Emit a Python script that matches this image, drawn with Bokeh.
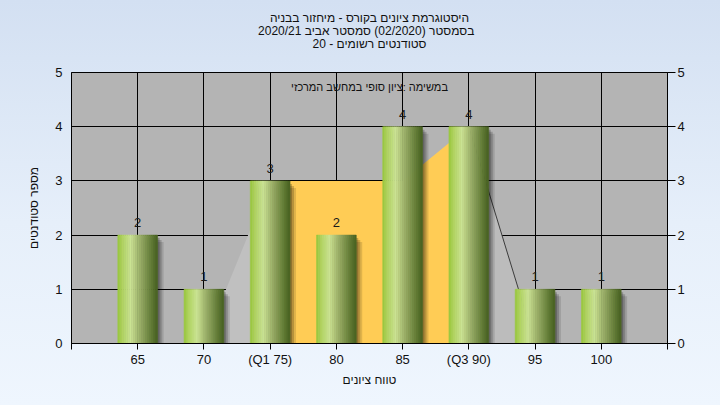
from bokeh.plotting import figure
from bokeh.models import Range1d, LinearAxis, FixedTicker, Label, ColumnDataSource, Title
from bokeh.embed import file_html
from bokeh.resources import INLINE
from bokeh.core.properties import value

# ---------------- data ----------------
grades = ["65", "70", "(Q1 75)", "80", "85", "(Q3 90)", "95", "100"]
counts = [2, 1, 3, 2, 4, 4, 1, 1]
# background distribution area (tails + inter-quartile part)
area_grades = ["70", "(Q1 75)", "80", "85", "(Q3 90)", "95"]
area_values = [0, 3, 3, 3, 4, 0]
q1_grade = "(Q1 75)"
q3_grade = "(Q3 90)"
y_ticks = [0, 1, 2, 3, 4, 5]

title_lines = [
    "היסטוגרמת ציונים בקורס - מיחזור בבניה",
    "בסמסטר  (02/2020)  סמסטר אביב 2020/21",
    "סטודנטים רשומים - 20",
]
subtitle = "במשימה :ציון סופי במחשב המרכזי"
x_title = "טווח ציונים"
y_title = "מספר סטודנטים"

FONT = "Liberation Sans"

# ---------------- figure ----------------
W, H = 720, 405
L, R, T, B = 71, 53, 72, 62
nx = len(grades) + 1
xpos = {g: i + 1 for i, g in enumerate(grades)}

p = figure(width=W, height=H, output_backend="svg", toolbar_location=None,
           x_range=Range1d(0, nx), y_range=Range1d(0, 5),
           min_border_left=L, min_border_right=R, min_border_top=T, min_border_bottom=B,
           background_fill_color="#B4B4B4", border_fill_color=None,
           outline_line_color="black", outline_line_width=1,
           styles={"background": "linear-gradient(180deg, #D3E0F2 0%, #E6EFFA 55%, #EFF6FE 100%)"})

px_x = nx / (W - L - R)      # data units per pixel (x)
px_y = 5.0 / (H - T - B)     # data units per pixel (y)

# spacer between title block and frame
p.add_layout(Title(text=" ", text_font_size="12px", standoff=7), "above")
# title: one centred Title per line (bottom line first = closest to frame)
for line in reversed(title_lines):
    p.add_layout(Title(text=line, align="center", offset=-9,
                       text_font=FONT, text_font_size="12px", text_font_style="normal",
                       text_color="#111111", text_line_height=1.0,
                       standoff=-3), "above")

# grid
p.xgrid.ticker = FixedTicker(ticks=list(range(1, nx)))
p.ygrid.ticker = FixedTicker(ticks=y_ticks)
for g in (p.xgrid, p.ygrid):
    g.grid_line_color = "black"
    g.grid_line_width = 1
    g.grid_line_alpha = 1

# x axis
xa = p.xaxis[0]
xa.ticker = FixedTicker(ticks=list(range(0, nx + 1)))
xa.major_label_overrides = {**{0: "", nx: ""}, **{xpos[g]: g for g in grades}}
xa.major_tick_out = 6
xa.major_tick_in = 0
xa.minor_tick_line_color = None
xa.axis_line_color = "black"
xa.major_tick_line_color = "black"
xa.major_label_text_font = FONT
xa.major_label_text_font_size = "13px"
xa.major_label_text_color = "#111111"
xa.major_label_standoff = 2
xa.axis_label = x_title
xa.axis_label_text_font = FONT
xa.axis_label_text_font_size = "12px"
xa.axis_label_text_font_style = "normal"
xa.axis_label_text_color = "#111111"
xa.axis_label_standoff = 3

# left y axis
ya = p.yaxis[0]
ya.ticker = FixedTicker(ticks=y_ticks)
ya.major_tick_out = 0
ya.major_tick_in = 0
ya.minor_tick_line_color = None
ya.axis_line_color = "black"
ya.major_label_text_font = FONT
ya.major_label_text_font_size = "13px"
ya.major_label_text_color = "#111111"
ya.major_label_standoff = 9
ya.axis_label = y_title
ya.axis_label_text_font = FONT
ya.axis_label_text_font_size = "12px"
ya.axis_label_text_font_style = "normal"
ya.axis_label_text_color = "#111111"
ya.axis_label_standoff = 11

# right y axis
ra = LinearAxis(ticker=FixedTicker(ticks=y_ticks))
ra.major_tick_out = 8
ra.major_tick_in = 0
ra.minor_tick_line_color = None
ra.axis_line_color = "black"
ra.major_tick_line_color = "black"
ra.major_label_text_font = FONT
ra.major_label_text_font_size = "13px"
ra.major_label_text_color = "#111111"
ra.major_label_standoff = 2
p.add_layout(ra, "right")

# ---------------- background area ----------------
ax = [xpos[g] for g in area_grades]
i1 = area_grades.index(q1_grade)
i3 = area_grades.index(q3_grade)
p.varea(x=ax[:i1 + 1], y1=0, y2=area_values[:i1 + 1], fill_color="#C0C0C0")
p.varea(x=ax[i3:], y1=0, y2=area_values[i3:], fill_color="#BCBCBC")
p.varea(x=ax[i1:i3 + 1], y1=0, y2=area_values[i1:i3 + 1], fill_color="#FFCC55")
p.line(x=ax[i3:], y=area_values[i3:], line_color="#3C3C3C", line_width=1)

# ---------------- bars ----------------
bw = 0.6
xs = [xpos[g] for g in grades]

# shadows
for j, a in [(2, 0.22), (4, 0.18), (6, 0.12)]:
    p.quad(left=[x - bw / 2 + j * px_x for x in xs],
           right=[x + bw / 2 + j * px_x for x in xs],
           top=[c - (j + 1) * px_y for c in counts],
           bottom=[0] * len(xs),
           fill_color="black", fill_alpha=a, line_color=None)

stops = [(0.0, (150, 197, 58)), (0.12, (176, 212, 96)), (0.33, (203, 227, 148)),
         (0.6, (148, 168, 98)), (0.85, (98, 124, 54)), (1.0, (70, 96, 32))]


def grad(t):
    for (t0, c0), (t1, c1) in zip(stops[:-1], stops[1:]):
        if t0 <= t <= t1:
            f = (t - t0) / (t1 - t0)
            c = [round(a + (b - a) * f) for a, b in zip(c0, c1)]
            return "#%02x%02x%02x" % tuple(c)
    return "#%02x%02x%02x" % stops[-1][1]


N = 20
lefts, rights, tops, cols = [], [], [], []
for x, c in zip(xs, counts):
    for k in range(N):
        l0 = x - bw / 2 + k * bw / N
        lefts.append(l0)
        rights.append(l0 + bw / N)
        tops.append(c)
        cols.append(grad((k + 0.5) / N))
p.quad(left=lefts, right=rights, top=tops, bottom=0, fill_color=cols,
       line_color=cols, line_width=0.6)

# value labels
src = ColumnDataSource(dict(x=xs, y=counts, t=[str(c) for c in counts]))
p.text(x="x", y="y", text="t", source=src, text_align="center",
       text_baseline="bottom", y_offset=-8, text_font=value(FONT),
       text_font_size="13px", text_color="#1a1a1a")

# ---------------- subtitle inside the frame ----------------
p.add_layout(Label(x=(369 - L) * px_x, y=(H - B - 86) * px_y, text=subtitle,
                   text_align="center", text_baseline="middle", text_font=FONT,
                   text_font_size="11px", text_color="#111111"))

open("out.html", "w").write(file_html(p, INLINE))
